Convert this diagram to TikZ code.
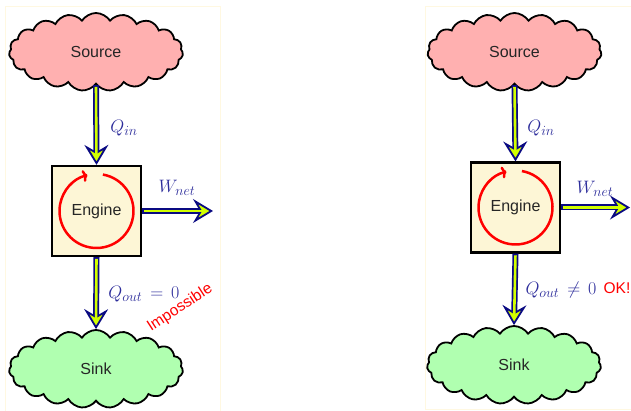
\RequirePackage{fix-cm}
\documentclass[tikz,border=0pt]{standalone}
\usepackage{fontspec}
\setsansfont{Liberation Sans}
\usetikzlibrary{shapes.symbols,arrows.meta}
\DeclareMathSizes{18}{18}{14}{11}
\definecolor{navyc}{RGB}{10,10,130}
\definecolor{chartc}{RGB}{210,255,0}
\definecolor{labc}{RGB}{45,45,155}
\definecolor{pinkc}{RGB}{255,176,176}
\definecolor{greenc}{RGB}{176,255,176}
\definecolor{enginec}{RGB}{253,246,214}
\definecolor{framec}{RGB}{255,248,225}
\tikzset{
 cloudbox/.style={cloud, cloud puffs=19, cloud puff arc=115, cloud ignores aspect, draw=black, line width=1.8pt, minimum width=174pt, minimum height=78pt, inner sep=0pt, text=black!85, font=\sffamily\fontsize{16}{19}\selectfont},
 enginebox/.style={draw=black, line width=2.2pt, fill=enginec, minimum width=89pt, minimum height=90pt, text=black!85, font=\sffamily\fontsize{16}{19}\selectfont},
 flowouter/.style={draw=navyc, line width=6pt, -{Stealth[length=20pt,width=24pt,inset=7pt,fill=chartc,line width=1.8pt 0 1]}},
 flowinner/.style={draw=chartc, line width=2.6pt, shorten <=1.8pt, shorten >=10pt},
 lab/.style={text=labc, font=\fontsize{18}{21}\selectfont},
 note/.style={text=red, font=\sffamily\fontsize{15.5}{18}\selectfont},
 cyclearrow/.style={draw=red, line width=2.5pt, -{To[length=5pt,width=12pt]}},
 panelframe/.style={draw=framec, line width=0.8pt}
}
\begin{document}
\begin{tikzpicture}[x=1pt,y=1pt]
\useasboundingbox (0,0) rectangle (631,411);
\draw[panelframe] (5,-2) rectangle (220,405);
\draw[panelframe] (425,2) rectangle (633,405);
% left panel
\node[cloudbox, fill=pinkc] (src1) at (96,359) {Source};
\node[enginebox] (eng1) at (96.5,200) {Engine};
\node[cloudbox, fill=greenc] (snk1) at (96,42) {Sink};
\coordinate (w1) at (213,200);
\draw[cyclearrow] ([shift={(80:37)}]eng1.center) arc[start angle=80,end angle=-256,radius=37];
\draw[flowouter] (src1.south) -- (eng1.north);
\draw[flowinner] (src1.south) -- (eng1.north);
\draw[flowouter] (eng1.east) -- (w1);
\draw[flowinner] (eng1.east) -- (w1);
\draw[flowouter] (eng1.south) -- (snk1.north);
\draw[flowinner] (eng1.south) -- (snk1.north);
\node[lab] (qin1) at (124,283) {$Q_{in}$};
\node[lab] (wn1) at (177,223) {$W_{net}$};
\node[lab] (qo1) at (144,117) {$Q_{out}\,=\,0$};
\node[note, rotate=33] (imp) at (180,103) {Impossible};
% right panel
\node[cloudbox, fill=pinkc] (src2) at (514.5,359) {Source};
\node[enginebox] (eng2) at (515.5,203.5) {Engine};
\node[cloudbox, fill=greenc] (snk2) at (514,46) {Sink};
\coordinate (w2) at (630,203.5);
\draw[cyclearrow] ([shift={(80:37)}]eng2.center) arc[start angle=80,end angle=-256,radius=37];
\draw[flowouter] (src2.south) -- (eng2.north);
\draw[flowinner] (src2.south) -- (eng2.north);
\draw[flowouter] (eng2.east) -- (w2);
\draw[flowinner] (eng2.east) -- (w2);
\draw[flowouter] (eng2.south) -- (snk2.north);
\draw[flowinner] (eng2.south) -- (snk2.north);
\node[lab] (qin2) at (541,283) {$Q_{in}$};
\node[lab] (wn2) at (595,222) {$W_{net}$};
\node[lab] (qo2) at (561,121) {$Q_{out}\,\neq\,0$};
\node[note] (ok) at (617,123) {OK!};
\end{tikzpicture}
\end{document}
